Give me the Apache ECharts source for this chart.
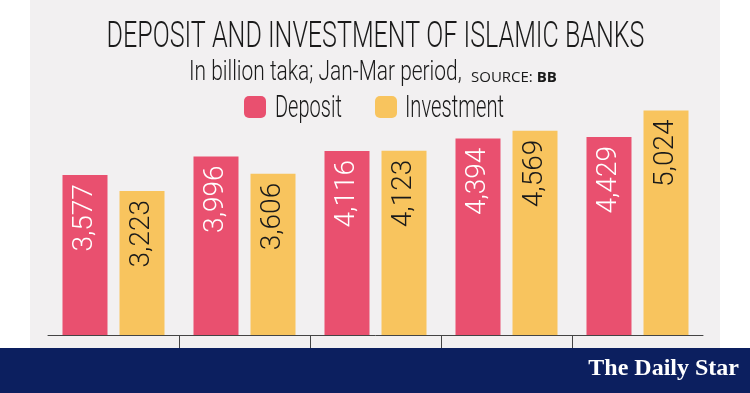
<!DOCTYPE html>
<html>
<head>
<meta charset="utf-8">
<script src="https://cdn.jsdelivr.net/npm/echarts@6/dist/echarts.min.js"></script>
<style>
  html, body { margin: 0; padding: 0; background: #ffffff; }
  #chart { width: 750px; height: 393px; }
</style>
</head>
<body>
<div id="chart"></div>
<script>
// ---- data ----
const categories = ['2019', '2020', '2021', '2022', '2023'];
const depositValues = [3577, 3996, 4116, 4394, 4429];
const investmentValues = [3223, 3606, 4123, 4569, 5024];
const seriesNames = ['Deposit', 'Investment'];
const titleText = 'DEPOSIT AND INVESTMENT OF ISLAMIC BANKS';
const subtitleText = 'In billion taka; Jan-Mar period,';
const sourceLabel = 'SOURCE: ';
const sourceName = 'BB';
const brandText = 'The Daily Star';

// ---- style ----
const PINK = '#e9506f';
const YELLOW = '#f8c45e';
const NAVY = '#0c1f5f';
const PANEL = '#f2f0f1';
const INK = '#1a1a1a';

const boundaryTicks = categories.slice(1).map((_, i) => i + 1);

const chart = echarts.init(document.getElementById('chart'), null, { renderer: 'canvas' });

function fmt(v) { return Number(v).toLocaleString('en-US'); }

function barLabel(color) {
  return {
    show: true,
    position: 'insideTop',
    rotate: 90,
    align: 'right',
    verticalAlign: 'middle',
    distance: 9,
    fontFamily: 'Roboto',
    fontWeight: 300,
    fontSize: 28,
    color: color,
    formatter: p => fmt(p.value)
  };
}

const option = {
  backgroundColor: '#ffffff',
  animation: false,
  grid: { left: 48, right: 47, top: 99, bottom: 58 },
  xAxis: [
    {
      type: 'category',
      data: categories,
      axisLine: { show: true, lineStyle: { color: '#444444', width: 1 } },
      axisTick: { show: false },
      axisLabel: { show: false },
      splitLine: { show: false }
    },
    {
      type: 'value',
      min: 0,
      max: categories.length,
      interval: 1,
      position: 'bottom',
      axisLine: { show: false },
      axisLabel: { show: false },
      splitLine: { show: false },
      axisTick: {
        show: true,
        length: 13,
        customValues: boundaryTicks,
        lineStyle: { color: '#444444', width: 1 }
      }
    }
  ],
  yAxis: {
    type: 'value',
    min: 0,
    max: 5280,
    show: false,
    splitLine: { show: false }
  },
  series: [
    {
      name: seriesNames[0],
      type: 'bar',
      xAxisIndex: 0,
      data: depositValues,
      barWidth: 45,
      barGap: '26.7%',
      itemStyle: { color: PINK },
      label: barLabel('#ffffff')
    },
    {
      name: seriesNames[1],
      type: 'bar',
      xAxisIndex: 0,
      data: investmentValues,
      barWidth: 45,
      barGap: '26.7%',
      itemStyle: { color: YELLOW },
      label: barLabel(INK)
    }
  ],
  graphic: [
    { type: 'rect', z: -10, silent: true, shape: { x: 30, y: 0, width: 690, height: 348 }, style: { fill: PANEL } },
    { type: 'rect', z: 100, silent: true, shape: { x: 0, y: 348, width: 750, height: 45 }, style: { fill: NAVY } },
    { type: 'text', z: 101, x: 739, y: 369, style: { text: brandText, fill: '#ffffff', font: 'bold 24px "Liberation Serif", serif', align: 'right', verticalAlign: 'middle' } },
    { type: 'text', x: 375.5, y: 38, scaleX: 0.696, style: { text: titleText, fill: INK, font: '300 36px Roboto', align: 'center', verticalAlign: 'middle' } },
    { type: 'text', x: 189, y: 73, scaleX: 0.747, style: { text: subtitleText, fill: INK, font: '300 28px Roboto', align: 'left', verticalAlign: 'middle' } },
    { type: 'text', x: 471, y: 78, style: {
        text: '{a|' + sourceLabel + '}{b|' + sourceName + '}',
        align: 'left', verticalAlign: 'middle',
        rich: {
          a: { fill: INK, font: '15px "Open Sans"' },
          b: { fill: INK, font: 'bold 15px "Open Sans"' }
        }
      } },
    { type: 'rect', shape: { x: 244, y: 96, width: 22, height: 22, r: 5 }, style: { fill: PINK } },
    { type: 'text', x: 275, y: 108.5, scaleX: 0.625, style: { text: seriesNames[0], fill: INK, font: '300 32px Roboto', align: 'left', verticalAlign: 'middle' } },
    { type: 'rect', shape: { x: 375, y: 96, width: 22, height: 22, r: 5 }, style: { fill: YELLOW } },
    { type: 'text', x: 405, y: 108.5, scaleX: 0.63, style: { text: seriesNames[1], fill: INK, font: '300 32px Roboto', align: 'left', verticalAlign: 'middle' } }
  ]
};

chart.setOption(option);
</script>
</body>
</html>
